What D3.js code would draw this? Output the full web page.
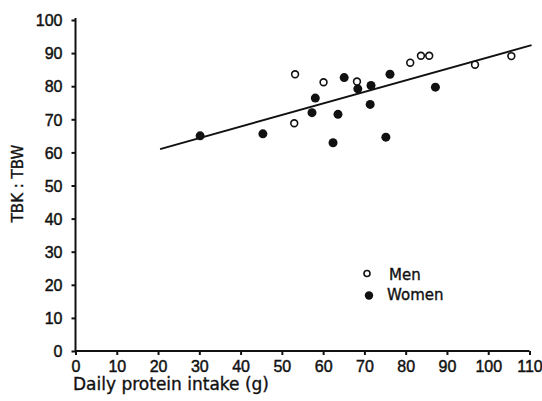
<!DOCTYPE html>
<html>
<head>
<meta charset="utf-8">
<script src="https://cdn.jsdelivr.net/npm/d3@7"></script>
<style>
  html, body { margin: 0; padding: 0; background: #fff; }
  #chart { width: 542px; height: 401px; }
  .tick-label { font-family: "Liberation Sans", Arial, sans-serif; font-size: 16px; fill: #111; stroke: #111; stroke-width: 0.45px; }
  .axis-title, .legend-text { font-family: "DejaVu Sans", sans-serif; fill: #111; stroke: #111; stroke-width: 0.35px; }
</style>
</head>
<body>
<div id="chart"></div>
<script>
// protein intake (g) and TBK:TBW ratio
const menIntake   = [53.2, 60.1, 53.0, 68.2, 81.1, 83.7, 85.7, 96.8, 105.6];
const menRatio    = [83.6, 81.2, 68.8, 81.4, 87.1, 89.2, 89.2, 86.5, 89.1];
const womenIntake = [30.2, 45.4, 57.3, 58.1, 62.4, 63.6, 65.1, 68.4, 71.6, 71.4, 76.2, 87.2, 75.2];
const womenRatio  = [65.0, 65.6, 72.0, 76.4, 62.9, 71.5, 82.6, 79.2, 80.2, 74.5, 83.6, 79.7, 64.6];
const fitIntake   = [20.5, 110.5];
const fitRatio    = [61.0, 92.4];
const xTicks = [0, 10, 20, 30, 40, 50, 60, 70, 80, 90, 100, 110];
const yTicks = [0, 10, 20, 30, 40, 50, 60, 70, 80, 90, 100];

function renderScatter(selector) {
    const W = 542, H = 401;
    const svg = d3.select(selector).append("svg")
        .attr("width", W)
        .attr("height", H);

    const x = d3.scaleLinear().domain([0, 110]).range([75.5, 529.5]);
    const y = d3.scaleLinear().domain([0, 100]).range([351, 20]);

    // axes
    const xAxis = svg.append("g")
        .attr("transform", `translate(0, ${y(0)})`)
        .call(d3.axisBottom(x).tickValues(xTicks).tickSize(4).tickPadding(6).tickFormat(d3.format("d")));
    const yAxis = svg.append("g")
        .attr("transform", `translate(${x(0)}, 0)`)
        .call(d3.axisLeft(y).tickValues(yTicks).tickSize(4).tickPadding(9).tickFormat(d3.format("d")));

    [xAxis, yAxis].forEach(g => {
        g.select(".domain").attr("stroke", "#111").attr("stroke-width", 2).attr("d",
            g === xAxis ? `M${x(0)},0H${x(110)}` : `M0,${y(0)}V${y(100) - 2}`);
        g.selectAll(".tick line").attr("stroke", "#111").attr("stroke-width", 2);
        g.selectAll(".tick text").attr("class", "tick-label").attr("font-family", null).attr("font-size", null);
    });
    yAxis.selectAll(".tick text").attr("dy", "0.36em");

    svg.append("text")
        .attr("class", "axis-title")
        .attr("x", 73)
        .attr("y", 390)
        .attr("font-size", 17)
        .text("Daily protein intake (g)");

    svg.append("text")
        .attr("class", "axis-title")
        .attr("transform", `translate(23, ${y(50) - 2}) rotate(-90)`)
        .attr("text-anchor", "middle")
        .attr("font-size", 15)
        .text("TBK : TBW");

    // regression line
    const line = d3.line().x(d => x(d[0])).y(d => y(d[1]));
    svg.append("path")
        .datum(d3.zip(fitIntake, fitRatio))
        .attr("d", line)
        .attr("fill", "none")
        .attr("stroke", "#111")
        .attr("stroke-width", 2);

    // points
    svg.selectAll(".women")
        .data(d3.zip(womenIntake, womenRatio))
        .enter().append("circle")
        .attr("class", "women")
        .attr("cx", d => x(d[0]))
        .attr("cy", d => y(d[1]))
        .attr("r", 4.5)
        .attr("fill", "#111");

    svg.selectAll(".men")
        .data(d3.zip(menIntake, menRatio))
        .enter().append("circle")
        .attr("class", "men")
        .attr("cx", d => x(d[0]))
        .attr("cy", d => y(d[1]))
        .attr("r", 3.4)
        .attr("fill", "#fff")
        .attr("stroke", "#111")
        .attr("stroke-width", 1.6);

    // legend
    const legend = svg.append("g");
    legend.append("circle")
        .attr("cx", 367).attr("cy", 273.5).attr("r", 3)
        .attr("fill", "#fff").attr("stroke", "#111").attr("stroke-width", 1.6);
    legend.append("circle")
        .attr("cx", 369).attr("cy", 295.5).attr("r", 4.2)
        .attr("fill", "#111");
    legend.append("text").attr("class", "legend-text")
        .attr("x", 389).attr("y", 279.5).attr("font-size", 15).text("Men");
    legend.append("text").attr("class", "legend-text")
        .attr("x", 387).attr("y", 300).attr("font-size", 15).text("Women");
}

renderScatter("#chart");
</script>
</body>
</html>
